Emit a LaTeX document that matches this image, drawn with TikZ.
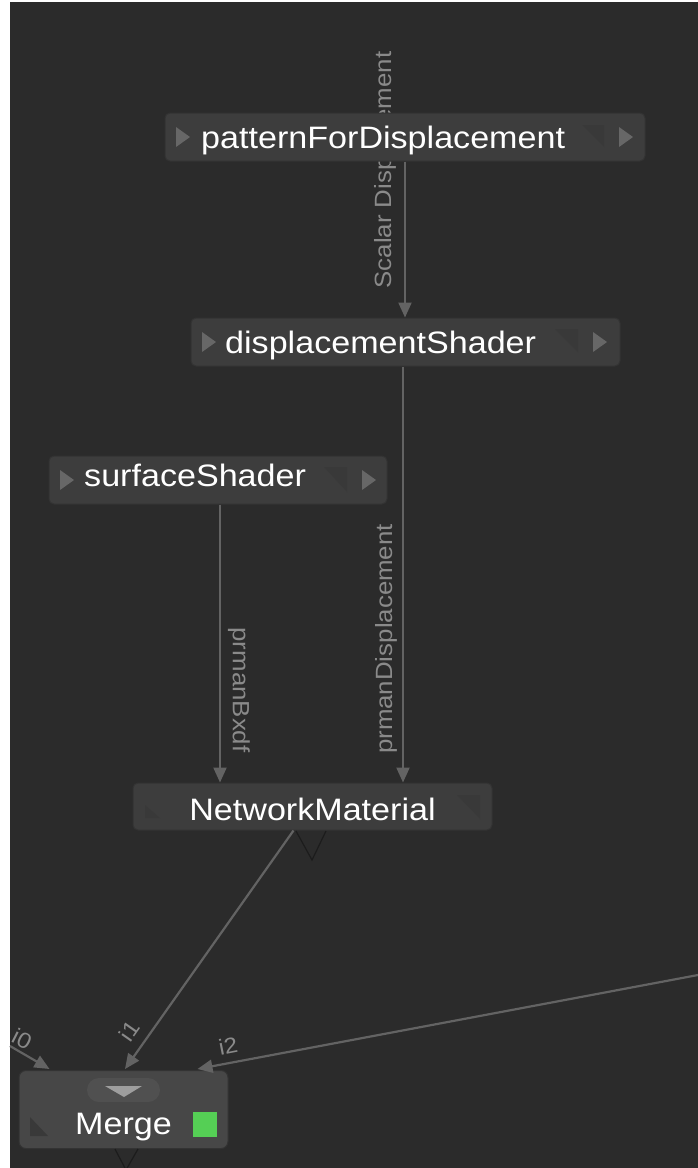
\documentclass[tikz,border=0pt]{standalone}
\usepackage{fontspec}
\newfontfamily\uifont[FakeStretch=1.1]{Liberation Sans}
\usetikzlibrary{arrows.meta,calc}
\definecolor{bg}{HTML}{2B2B2B}
\definecolor{nodefill}{HTML}{3D3D3D}
\definecolor{nodeedge}{HTML}{333333}
\definecolor{conncol}{HTML}{636363}
\definecolor{lblcol}{HTML}{8A8A8A}
\definecolor{tricol}{HTML}{676767}
\definecolor{faint}{HTML}{393939}
\definecolor{darkline}{HTML}{1C1C1C}
\definecolor{mergegreen}{HTML}{55CF55}
\definecolor{pillcol}{HTML}{505050}
\definecolor{pilltri}{HTML}{9E9E9E}
\begin{document}
\begin{tikzpicture}[x=1pt,y=-1pt,
  nodebox/.style={draw=nodeedge, fill=nodefill, rounded corners=5pt, line width=1pt, inner sep=0pt, minimum height=48pt},
  conn/.style={draw=conncol, line width=2.2pt, -{Triangle[width=13pt,length=15pt]}},
  lbl/.style={text=lblcol, font=\uifont\fontsize{23.5}{26}\selectfont, inner sep=0pt},
  ilbl/.style={text=lblcol, font=\uifont\fontsize{22}{24}\selectfont, inner sep=0pt},
  ntext/.style={text=white, font=\uifont\fontsize{31}{36}\selectfont, inner sep=0pt, anchor=base west},
  tri/.style={fill=tricol},
  fainttri/.style={fill=faint}]
\useasboundingbox (0,0) rectangle (698,1168);
\fill[white] (0,0) rectangle (698,1168);
\fill[bg] (10,2) rectangle (698,1168);

% labels lying under boxes
\node[lbl, rotate=90] (lsd) at (385,170) {Scalar Displacement};
\node[lbl, rotate=90] (lpd) at (386,639) {prmanDisplacement};
\node[lbl, rotate=-90] (lpb) at (239,690) {prmanBxdf};

% boxes
\node[nodebox, minimum width=480pt] (pfd) at (405,137) {};
\node[nodebox, minimum width=429pt] (ds) at (405.5,342) {};
\node[nodebox, minimum width=338pt] (ss) at (218,480) {};
\node[nodebox, minimum width=359pt, minimum height=47pt] (nm) at (312.5,806.5) {};
\node[nodebox, minimum width=209pt, minimum height=78pt, rounded corners=7pt, fill=nodefill!95!white] (mg) at (123.5,1109.5) {};

% box decorations
\fill[tri] (176,127) -- (190,137) -- (176,147) -- cycle;
\fill[tri] (619,127) -- (633,137) -- (619,147) -- cycle;
\fill[fainttri] (582,125) -- (604,125) -- (604,147) -- cycle;
\fill[tri] (202,332) -- (216,342) -- (202,352) -- cycle;
\fill[tri] (593,332) -- (607,342) -- (593,352) -- cycle;
\fill[fainttri] (555,329) -- (578,329) -- (578,352) -- cycle;
\fill[tri] (60,470) -- (74,480) -- (60,490) -- cycle;
\fill[tri] (362,470) -- (376,480) -- (362,490) -- cycle;
\fill[fainttri] (324,467) -- (347,467) -- (347,492) -- cycle;
\fill[fainttri] (457,795) -- (480,795) -- (480,819) -- cycle;
\fill[fainttri] (145,818) -- (145,805) -- (160,818) -- cycle;
\fill[fainttri] (30,1136) -- (30,1117) -- (48,1136) -- cycle;
\draw[darkline, line width=1.2pt] (296,831) -- (312,860) -- (326,831);
\draw[darkline, line width=1.2pt] (115,1149) -- (126,1170) -- (138,1149);
\fill[pillcol] (99,1078) rectangle (148,1102);
\fill[pillcol] (99,1090) circle (12);
\fill[pillcol] (148,1090) circle (12);
\fill[pilltri] (105,1086) -- (142,1086) -- (124,1097) -- cycle;
\fill[mergegreen] (193,1112) rectangle (217,1137);

% texts
\node[ntext] (tpfd) at (201,148) {patternForDisplacement};
\node[ntext] (tds) at (225,353) {displacementShader};
\node[ntext] (tss) at (84,486) {surfaceShader};
\node[ntext, anchor=base] (tnm) at (312.5,820) {NetworkMaterial};
\node[ntext] (tmg) at (75,1134) {Merge};

% connectors
\coordinate (dsout) at ([xshift=-2.5pt]ds.south);
\coordinate (ssout) at ([xshift=2pt]ss.south);
\coordinate (nmout) at ([xshift=-19pt]nm.south);
\coordinate (mgi0) at ([xshift=31pt,yshift=1pt]mg.north west);
\coordinate (mgi1) at ([xshift=1.5pt,yshift=1pt]mg.north);
\coordinate (mgi2) at ([xshift=74pt,yshift=1pt]mg.north);
\coordinate (i0s) at (10,1046);
\coordinate (i2s) at (698,975);
\draw[conn] (pfd.south) -- (ds.north -| pfd.south);
\draw[conn] (dsout) -- (dsout |- nm.north);
\draw[conn] (ssout) -- (ssout |- nm.north);
\draw[conn] (nmout) -- (mgi1);
\draw[conn] (i0s) -- (mgi0);
\draw[conn] (i2s) -- (mgi2);
\node[ilbl, rotate=55] (li1) at (129,1031) {i1};
\node[ilbl, rotate=-27] (li0) at (22,1039) {i0};
\node[ilbl, rotate=11] (li2) at (228,1046) {i2};
\end{tikzpicture}
\end{document}
